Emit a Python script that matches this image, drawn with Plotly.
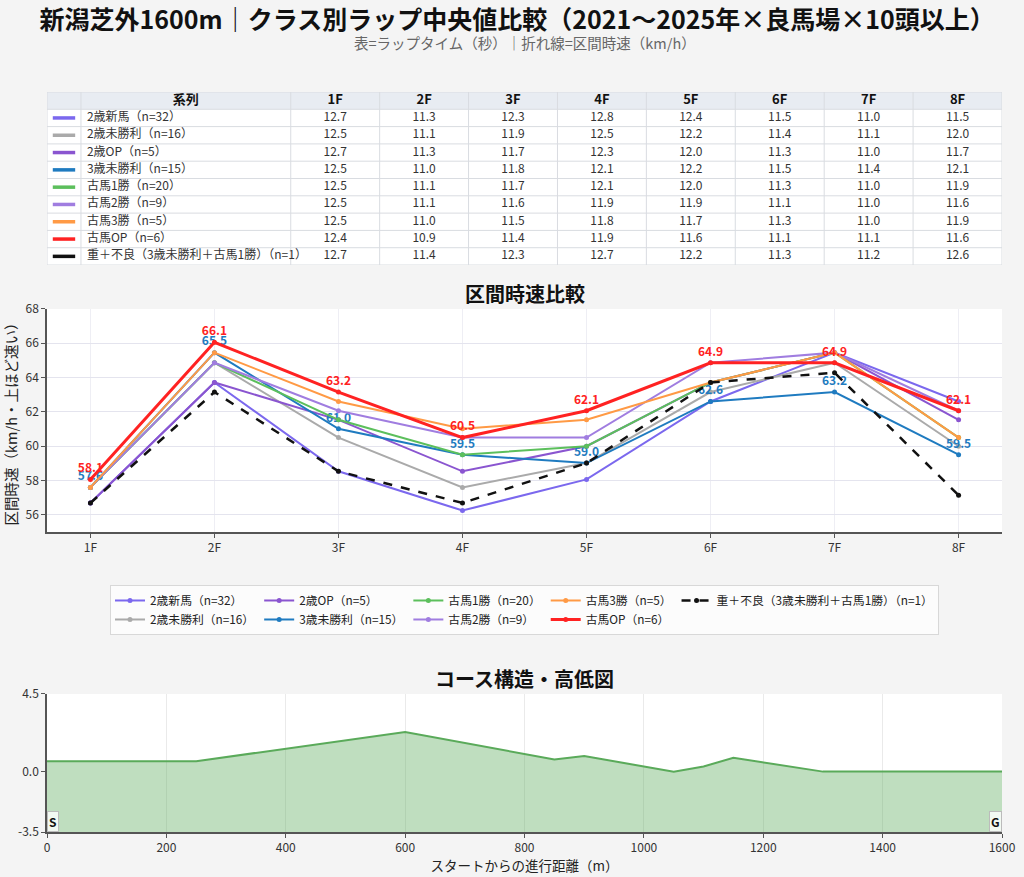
import plotly.graph_objects as go

FONT = "Noto Sans CJK JP"

# ラップ中央値（秒）
furlongs = ["1F", "2F", "3F", "4F", "5F", "6F", "7F", "8F"]
series_names = [
    "2歳新馬（n=32）",
    "2歳未勝利（n=16）",
    "2歳OP（n=5）",
    "3歳未勝利（n=15）",
    "古馬1勝（n=20）",
    "古馬2勝（n=9）",
    "古馬3勝（n=5）",
    "古馬OP（n=6）",
    "重＋不良（3歳未勝利＋古馬1勝）（n=1）",
]
laps_2yo_debut = [12.7, 11.3, 12.3, 12.8, 12.4, 11.5, 11.0, 11.5]
laps_2yo_maiden = [12.5, 11.1, 11.9, 12.5, 12.2, 11.4, 11.1, 12.0]
laps_2yo_op = [12.7, 11.3, 11.7, 12.3, 12.0, 11.3, 11.0, 11.7]
laps_3yo_maiden = [12.5, 11.0, 11.8, 12.1, 12.2, 11.5, 11.4, 12.1]
laps_1win = [12.5, 11.1, 11.7, 12.1, 12.0, 11.3, 11.0, 11.9]
laps_2win = [12.5, 11.1, 11.6, 11.9, 11.9, 11.1, 11.0, 11.6]
laps_3win = [12.5, 11.0, 11.5, 11.8, 11.7, 11.3, 11.0, 11.9]
laps_open = [12.4, 10.9, 11.4, 11.9, 11.6, 11.1, 11.1, 11.6]
laps_heavy = [12.7, 11.4, 12.3, 12.7, 12.2, 11.3, 11.2, 12.6]
all_laps = [laps_2yo_debut, laps_2yo_maiden, laps_2yo_op, laps_3yo_maiden,
            laps_1win, laps_2win, laps_3win, laps_open, laps_heavy]

colors = ["#7b68ee", "#aaaaaa", "#8a55d0", "#1f7bc0", "#5cbf5c",
          "#a07de0", "#ff9a45", "#ff2222", "#111111"]
# 数値ラベルを付ける系列
labeled = [False, False, False, True, False, False, False, True, False]
# 凡例の列（列優先で並べる）
legend_cols = ["c1", "c1", "c2", "c2", "c3", "c3", "c4", "c4", "c5"]

# コース高低（m）
elev_x = [0, 250, 600, 850, 900, 1050, 1100, 1150, 1300, 1600]
elev_y = [0.6, 0.6, 2.3, 0.7, 0.9, 0.0, 0.3, 0.8, 0.0, 0.0]
elev_range = [-3.5, 4.5]

# 表の列幅(px)
col_widths = [34, 210] + [89] * len(furlongs)


def to_kmh(laps):
    # 200m区間のタイム -> km/h
    return [200 / t * 3.6 for t in laps]


fig = go.Figure()

# --- table (drawn on its own hidden axes: x3 = px, y3 = row index) ---
edges = [0]
for w in col_widths:
    edges.append(edges[-1] + w)
n_rows = len(series_names) + 1
centers = [(edges[i] + edges[i + 1]) / 2 for i in range(len(col_widths))]
rows_y = [r + 0.5 for r in range(1, n_rows)]

shapes = [
    dict(type="rect", xref="x3", yref="y3", x0=0, x1=edges[-1], y0=0, y1=1,
         fillcolor="#e8ecf2", line_width=0, layer="below"),
    dict(type="rect", xref="x3", yref="y3", x0=0, x1=edges[-1], y0=1, y1=n_rows,
         fillcolor="white", line_width=0, layer="below"),
]
for r in range(n_rows + 1):
    shapes.append(dict(type="line", xref="x3", yref="y3", x0=0, x1=edges[-1], y0=r, y1=r,
                       line=dict(color="#d9dce1", width=1), layer="below"))
for e in edges:
    shapes.append(dict(type="line", xref="x3", yref="y3", x0=e, x1=e, y0=0, y1=n_rows,
                       line=dict(color="#d9dce1", width=1), layer="below"))

# header
fig.add_trace(go.Scatter(
    x=centers[1:], y=[0.5] * (len(centers) - 1), mode="text",
    text=["系列"] + furlongs, textposition="middle center",
    textfont=dict(family=FONT, size=13, color="#111", weight="bold"),
    showlegend=False, hoverinfo="skip", xaxis="x3", yaxis="y3"))
# color swatches
fig.add_trace(go.Scatter(
    x=[centers[0]] * len(series_names), y=rows_y, mode="markers",
    marker=dict(symbol="line-ew", size=16, line=dict(color=colors, width=3.5)),
    showlegend=False, hoverinfo="skip", xaxis="x3", yaxis="y3"))
# names
fig.add_trace(go.Scatter(
    x=[edges[1] + 6] * len(series_names), y=rows_y, mode="text",
    text=series_names, textposition="middle right",
    textfont=dict(family=FONT, size=12, color="#333"),
    showlegend=False, hoverinfo="skip", xaxis="x3", yaxis="y3"))
# lap values
for i in range(len(furlongs)):
    fig.add_trace(go.Scatter(
        x=[centers[i + 2]] * len(series_names), y=rows_y, mode="text",
        text=["%.1f" % laps[i] for laps in all_laps], textposition="middle center",
        textfont=dict(family=FONT, size=12, color="#333"),
        showlegend=False, hoverinfo="skip", xaxis="x3", yaxis="y3"))

# --- speed lines ---
for i, name in enumerate(series_names):
    spd = to_kmh(all_laps[i])
    is_heavy = i == len(series_names) - 1
    is_open = i == 7
    width = 3 if is_open else (2.5 if is_heavy else 2)
    tr = dict(
        x=furlongs, y=spd, name=name, legendgroup=legend_cols[i],
        line=dict(color=colors[i], width=width, dash="dash" if is_heavy else "solid"),
        marker=dict(color=colors[i], size=5),
        xaxis="x", yaxis="y",
    )
    if labeled[i]:
        tr["mode"] = "lines+markers+text"
        tr["text"] = ["%.1f" % v for v in spd]
        tr["textposition"] = "top center"
        tr["textfont"] = dict(family=FONT, size=12, color=colors[i], weight="bold")
    else:
        tr["mode"] = "lines+markers"
    fig.add_trace(go.Scatter(**tr))

# --- elevation ---
fig.add_trace(go.Scatter(x=[elev_x[0], elev_x[-1]], y=[elev_range[0]] * 2,
                         mode="lines", line=dict(width=0), showlegend=False,
                         hoverinfo="skip", xaxis="x2", yaxis="y2"))
fig.add_trace(go.Scatter(x=elev_x, y=elev_y, mode="lines", fill="tonexty",
                         fillcolor="rgba(90,170,90,0.39)",
                         line=dict(color="#5aaa5a", width=2),
                         showlegend=False, xaxis="x2", yaxis="y2"))

axis_common = dict(showline=True, linecolor="#555", linewidth=1.5, ticks="outside",
                   ticklen=4, tickcolor="#555", zeroline=False, automargin=False,
                   tickfont=dict(family=FONT, size=12, color="#333"))
hidden = dict(visible=False, showgrid=False, zeroline=False, fixedrange=True)

fig.update_layout(
    width=1024, height=877,
    paper_bgcolor="#f4f4f4", plot_bgcolor="white",
    margin=dict(l=47, r=22, t=92, b=45, autoexpand=False),
    font=dict(family=FONT, color="#333"),
    shapes=shapes,
    title=dict(text="新潟芝外1600m｜クラス別ラップ中央値比較（2021～2025年×良馬場×10頭以上）",
               x=0.505, xref="container", y=0.977, yanchor="middle",
               font=dict(family=FONT, size=25, color="#111", weight="bold")),
    xaxis=dict(domain=[0, 1], anchor="y", type="category", range=[-0.35, 7.35],
               showgrid=True, gridcolor="#eeeef4", **axis_common),
    yaxis=dict(domain=[0.4054, 0.7068], anchor="x", range=[55, 68], dtick=2,
               showgrid=True, gridcolor="#e4e4ee",
               title=dict(text="区間時速（km/h・上ほど速い）", standoff=4,
                          font=dict(family=FONT, size=14.5, color="#222")),
               **axis_common),
    xaxis2=dict(domain=[0, 1], anchor="y2", range=[0, 1600], dtick=200,
                showgrid=True, gridcolor="#eaeaea",
                title=dict(text="スタートからの進行距離（m）", standoff=0,
                           font=dict(family=FONT, size=13.5, color="#222")),
                **axis_common),
    yaxis2=dict(domain=[0, 0.1865], anchor="x2", range=elev_range,
                tickvals=[-3.5, 0, 4.5], ticktext=["-3.5", "0.0", "4.5"],
                showgrid=False, **axis_common),
    xaxis3=dict(domain=[0, 1], anchor="y3", range=[0, edges[-1]], **hidden),
    yaxis3=dict(domain=[0.7662, 1.0], anchor="x3", range=[n_rows, 0], **hidden),
    legend=dict(orientation="h", traceorder="grouped", x=0.5, xanchor="center",
                y=0.3338, yanchor="top", bgcolor="rgba(255,255,255,0.75)",
                bordercolor="#d8d8d8", borderwidth=1, itemwidth=30,
                font=dict(family=FONT, size=11.8, color="#222")),
    showlegend=True,
)

# sub titles / markers
fig.add_annotation(text="表=ラップタイム（秒）｜折れ線=区間時速（km/h）",
                   xref="paper", yref="paper", x=0.5, y=1.0 + (92 - 42) / 740,
                   showarrow=False, yanchor="middle",
                   font=dict(family=FONT, size=14.5, color="#666"))
fig.add_annotation(text="区間時速比較", xref="paper", yref="paper", x=0.5,
                   y=(832 - 293) / 740, showarrow=False, yanchor="middle",
                   font=dict(family=FONT, size=20, color="#111", weight="bold"))
fig.add_annotation(text="コース構造・高低図", xref="paper", yref="paper", x=0.5,
                   y=(832 - 678) / 740, showarrow=False, yanchor="middle",
                   font=dict(family=FONT, size=20, color="#111", weight="bold"))
for label, xv, anchor in [("S", elev_x[0], "left"), ("G", elev_x[-1], "right")]:
    fig.add_annotation(text="<b>%s</b>" % label, x=xv, y=elev_range[0],
                       xref="x2", yref="y2", xanchor=anchor, yanchor="bottom",
                       showarrow=False, bgcolor="rgba(255,255,255,0.8)",
                       bordercolor="#bbbbbb", borderwidth=1, borderpad=1,
                       font=dict(family=FONT, size=12, color="#111"))

# the page body has a default 8px margin; drop it so the figure fills the window
fig.write_html("out.html", config={"displayModeBar": False},
               post_script="document.body.style.margin='0px';"
                           "document.body.style.overflow='hidden';")
